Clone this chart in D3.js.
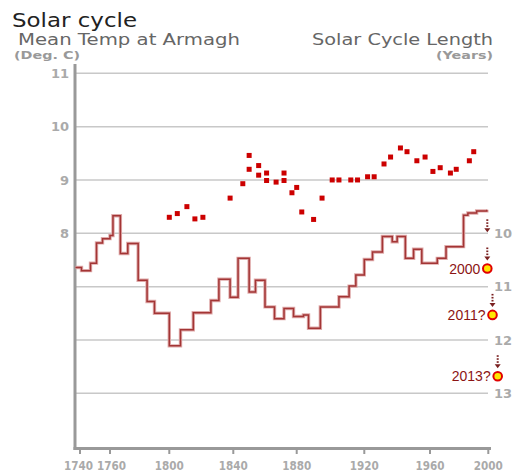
<!DOCTYPE html>
<html>
<head>
<meta charset="utf-8">
<script src="https://cdn.jsdelivr.net/npm/d3@7"></script>
<style>
  html, body { margin: 0; padding: 0; background: #fff; }
  svg { display: block; }
</style>
</head>
<body>
<svg id="chart" width="515" height="473"></svg>
<script>
// ---------- data ----------
const tickYears = [1740, 1760, 1800, 1840, 1880, 1920, 1960, 2000];
const tempTicks = [11, 10, 9, 8];
const gridTemps = [11, 10, 9, 8, 7, 6, 5];
const lengthTicks = [10, 11, 12, 13];

const tempYears = [1800, 1805, 1811, 1816, 1821, 1838, 1846, 1850, 1850, 1856, 1856, 1861, 1861, 1867, 1872, 1872, 1877, 1880, 1883, 1890, 1895, 1901, 1905, 1912, 1916, 1922, 1926, 1932, 1936, 1942, 1946, 1952, 1957, 1962, 1967, 1974, 1978, 1987, 1990];
const temps = [8.30, 8.37, 8.50, 8.27, 8.30, 8.66, 8.93, 9.46, 9.20, 9.27, 9.09, 9.13, 8.99, 8.96, 9.13, 8.99, 8.76, 8.86, 8.40, 8.26, 8.66, 9.00, 9.00, 9.00, 9.00, 9.06, 9.06, 9.30, 9.43, 9.60, 9.53, 9.36, 9.43, 9.16, 9.23, 9.13, 9.20, 9.36, 9.53];

const cycleYears = [1737, 1741, 1747, 1751, 1755, 1760, 1762, 1767, 1772, 1779, 1785, 1790, 1800, 1807, 1815, 1826, 1831, 1838, 1843, 1850, 1854, 1860, 1866, 1872, 1878, 1884, 1887, 1894, 1905, 1911, 1915, 1920, 1925, 1931, 1937, 1940, 1945, 1950, 1955, 1965, 1971, 1983, 1986, 1992, 1999];
const cycleLengths = [10.64, 10.70, 10.56, 10.18, 10.10, 10.04, 9.67, 10.38, 10.19, 10.88, 11.28, 11.50, 12.11, 11.81, 11.49, 11.26, 10.86, 11.20, 10.47, 11.10, 10.88, 11.38, 11.60, 11.41, 11.56, 11.53, 11.78, 11.38, 11.19, 10.99, 10.78, 10.49, 10.35, 10.06, 10.16, 10.06, 10.47, 10.30, 10.56, 10.47, 10.25, 9.66, 9.62, 9.58, 9.56];

const predLabels = ["2000", "2011?", "2013?"];
const predLengths = [10.66, 11.53, 12.68];

// ---------- scales ----------
const svg = d3.select("#chart");
const x = d3.scaleLinear()
  .domain(tickYears)
  .range([80, 110, 169.3, 233.3, 296.7, 364.3, 430, 488.3]);
const yT = d3.scaleLinear().domain([8, 11]).range([233.3, 73.3]);
const yL = d3.scaleLinear().domain([10, 13]).range([233.3, 393.3]);

const font = "DejaVu Sans, Verdana, sans-serif";

// ---------- header ----------
svg.append("text").attr("x", 12).attr("y", 26.5)
  .attr("font-family", font).attr("font-size", 20).attr("fill", "#222")
  .attr("textLength", 125).attr("lengthAdjust", "spacingAndGlyphs")
  .text("Solar cycle");
svg.append("text").attr("x", 18).attr("y", 45)
  .attr("font-family", font).attr("font-size", 15).attr("fill", "#666")
  .attr("textLength", 222).attr("lengthAdjust", "spacingAndGlyphs")
  .text("Mean Temp at Armagh");
svg.append("text").attr("x", 14).attr("y", 58.5)
  .attr("font-family", font).attr("font-size", 10).attr("font-weight", "bold").attr("fill", "#999")
  .attr("textLength", 66).attr("lengthAdjust", "spacingAndGlyphs")
  .text("(Deg. C)");
svg.append("text").attr("x", 312).attr("y", 45)
  .attr("font-family", font).attr("font-size", 15).attr("fill", "#666")
  .attr("textLength", 181).attr("lengthAdjust", "spacingAndGlyphs")
  .text("Solar Cycle Length");
svg.append("text").attr("x", 436).attr("y", 58.5)
  .attr("font-family", font).attr("font-size", 10).attr("font-weight", "bold").attr("fill", "#999")
  .attr("textLength", 57).attr("lengthAdjust", "spacingAndGlyphs")
  .text("(Years)");

// ---------- grid ----------
svg.append("g").selectAll("line").data(gridTemps).join("line")
  .attr("x1", 75).attr("x2", 488)
  .attr("y1", d => yT(d)).attr("y2", d => yT(d))
  .attr("stroke", "#c8c8c8").attr("stroke-width", 1.5);

// left tick labels
svg.append("g").selectAll("text").data(tempTicks).join("text")
  .attr("x", 69).attr("y", d => yT(d)).attr("dy", "0.36em")
  .attr("text-anchor", "end")
  .attr("font-family", font).attr("font-size", 13).attr("font-weight", "bold")
  .attr("fill", "#aaa")
  .text(d => d);

// right tick labels
svg.append("g").selectAll("text").data(lengthTicks).join("text")
  .attr("x", 494).attr("y", d => yL(d)).attr("dy", "0.36em")
  .attr("text-anchor", "start")
  .attr("font-family", font).attr("font-size", 13).attr("font-weight", "bold")
  .attr("fill", "#aaa")
  .text(d => d);

// axes lines
svg.append("line").attr("x1", 75).attr("x2", 75).attr("y1", 64).attr("y2", 450)
  .attr("stroke", "#999").attr("stroke-width", 3);
svg.append("line").attr("x1", 73.5).attr("x2", 491).attr("y1", 448.5).attr("y2", 448.5)
  .attr("stroke", "#999").attr("stroke-width", 3);

// bottom ticks & labels
const bt = svg.append("g");
bt.selectAll("line").data(tickYears).join("line")
  .attr("x1", d => x(d)).attr("x2", d => x(d))
  .attr("y1", 449).attr("y2", 454)
  .attr("stroke", "#999").attr("stroke-width", 2);
bt.selectAll("text").data(tickYears).join("text")
  .attr("x", (d, i) => x(d) - (i === 0 ? 1.5 : i === 1 ? -1.5 : 0)).attr("y", 470)
  .attr("text-anchor", "middle")
  .attr("font-family", font).attr("font-size", 11.5).attr("font-weight", "bold")
  .attr("fill", "#aaa")
  .attr("textLength", 29).attr("lengthAdjust", "spacingAndGlyphs")
  .text(d => d);

// ---------- solar cycle step line ----------
const cyc = cycleYears.map((yr, i) => [yr, cycleLengths[i]]);
const lineGen = d3.line().x(d => x(d[0])).y(d => yL(d[1])).curve(d3.curveStepAfter);
svg.append("path").datum(cyc).attr("d", lineGen)
  .attr("fill", "none").attr("stroke", "#dfaaaa").attr("stroke-width", 3.4);
svg.append("path").datum(cyc).attr("d", lineGen)
  .attr("fill", "none").attr("stroke", "#a33535").attr("stroke-width", 1.5);

// ---------- temperature squares ----------
svg.append("g").selectAll("rect").data(tempYears.map((yr, i) => [yr, temps[i]])).join("rect")
  .attr("x", d => x(d[0]) - 2.5).attr("y", d => yT(d[1]) - 2.5)
  .attr("width", 5).attr("height", 5)
  .attr("fill", "#cc0000");

// ---------- predictions ----------
const px = i => x(2000) - 1 + i * 5.2;
function arrow(cx, tipY) {
  const g = svg.append("g").attr("fill", "#7a2020");
  [11, 8, 5].forEach(o => g.append("rect").attr("x", cx - 1).attr("y", tipY - o - 1).attr("width", 2).attr("height", 1.6));
  g.append("path").attr("d", `M${cx - 3},${tipY - 3} L${cx + 3},${tipY - 3} L${cx},${tipY + 1} Z`);
}
arrow(px(0), yL(10) - 2);
predLengths.forEach((v, i) => {
  const cx = px(i), cy = yL(v);
  arrow(cx, cy - 9);
  svg.append("circle").attr("cx", cx).attr("cy", cy).attr("r", 4.3)
    .attr("fill", "#ffe600").attr("stroke", "#e00000").attr("stroke-width", 2);
  svg.append("text").attr("x", cx - 7).attr("y", cy).attr("dy", "0.36em")
    .attr("text-anchor", "end")
    .attr("font-family", "Liberation Sans, Arial, sans-serif").attr("font-size", 14)
    .attr("fill", "#8c1414")
    .text(predLabels[i]);
});
</script>
</body>
</html>
